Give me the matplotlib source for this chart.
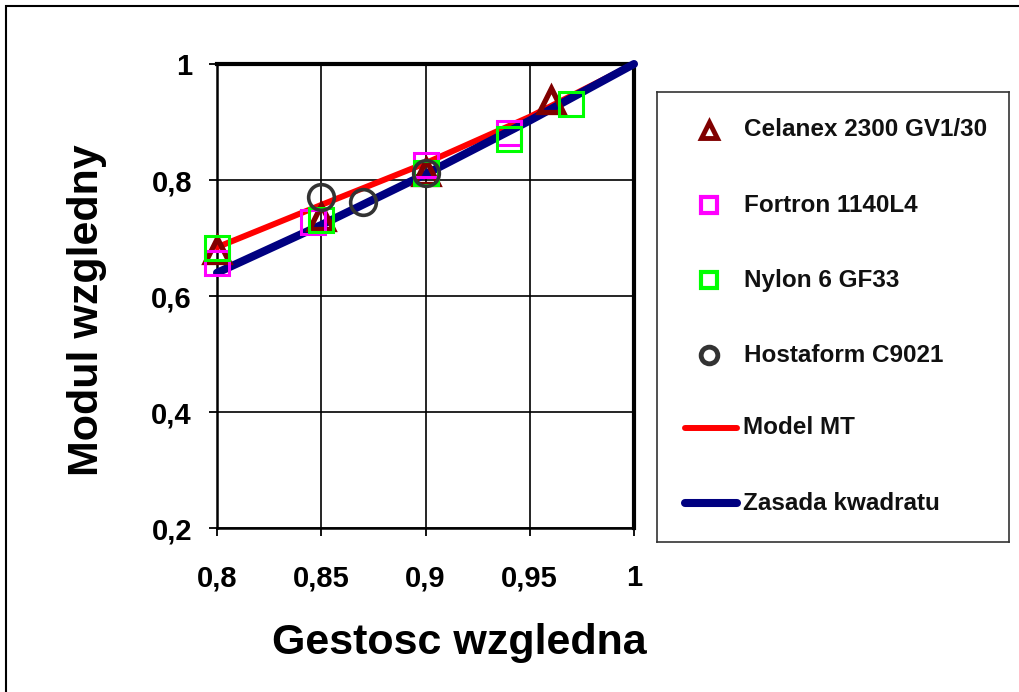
import matplotlib
matplotlib.use("Agg")
import matplotlib.pyplot as plt
from matplotlib.patches import Rectangle

plt.rcParams['font.family'] = ['Liberation Sans', 'DejaVu Sans']
plt.rcParams['font.weight'] = 'bold'

# dane
celanex_x = [0.80, 0.85, 0.90, 0.96]
celanex_y = [0.679, 0.736, 0.814, 0.938]
fortron_x = [0.80, 0.846, 0.90, 0.94]
fortron_y = [0.657, 0.728, 0.826, 0.881]
nylon_x = [0.80, 0.85, 0.90, 0.94, 0.97]
nylon_y = [0.683, 0.731, 0.812, 0.871, 0.931]
hosta_x = [0.85, 0.87, 0.90]
hosta_y = [0.771, 0.762, 0.812]
model_x = [0.80, 0.85, 0.90, 0.95, 1.00]
model_y = [0.684, 0.757, 0.829, 0.909, 1.00]
kwadrat_x = [0.80, 0.85, 0.90, 0.95, 1.00]
kwadrat_y = [0.640, 0.7225, 0.810, 0.9025, 1.00]

xticks = [0.8, 0.85, 0.9, 0.95, 1.0]
xticklabels = ['0,8', '0,85', '0,9', '0,95', '1']
yticks = [0.2, 0.4, 0.6, 0.8, 1.0]
yticklabels = ['0,2', '0,4', '0,6', '0,8', '1']

W, H = 1019, 692
fig = plt.figure(figsize=(W / 100, H / 100), dpi=100)
fig.patches.append(Rectangle((6 / W, -0.1), 1.2, 1.1 - 6 / H, transform=fig.transFigure,
                             fill=False, edgecolor='black', linewidth=1.5))

ax = fig.add_axes([217 / W, 1 - 528 / H, 417 / W, 464 / H])
ax.plot(model_x, model_y, color='#ff0000', linewidth=4.3, zorder=3,
        solid_capstyle='round', clip_on=False)
ax.plot(kwadrat_x, kwadrat_y, color='#000080', linewidth=5.8, zorder=3,
        solid_capstyle='round', clip_on=False)
ax.plot(celanex_x, celanex_y, linestyle='none', marker='^', markersize=17,
        markerfacecolor='none', markeredgecolor='#800000', markeredgewidth=3.8, zorder=4, clip_on=False)
ax.plot(fortron_x, fortron_y, linestyle='none', marker='s', markersize=17,
        markerfacecolor='none', markeredgecolor='#ff00ff', markeredgewidth=2.2, zorder=4, clip_on=False)
ax.plot(nylon_x, nylon_y, linestyle='none', marker='s', markersize=17,
        markerfacecolor='none', markeredgecolor='#00ff00', markeredgewidth=2.2, zorder=4, clip_on=False)
ax.plot(hosta_x, hosta_y, linestyle='none', marker='o', markersize=18.5,
        markerfacecolor='none', markeredgecolor='#333333', markeredgewidth=2.6, zorder=5, clip_on=False)

ax.set_xlim(0.8, 1.0)
ax.set_ylim(0.2, 1.0)
ax.set_xticks(xticks)
ax.set_xticklabels(xticklabels)
ax.set_yticks(yticks)
ax.set_yticklabels(yticklabels)
ax.grid(True, color='black', linewidth=1.2)
ax.set_axisbelow(True)
for s in ['left', 'bottom']:
    ax.spines[s].set_linewidth(1.8)
for s in ['top', 'right']:
    ax.spines[s].set_linewidth(3.0)
ax.tick_params(direction='out', length=6, width=1.3, labelsize=21)
ax.tick_params(axis='x', pad=20)
ax.tick_params(axis='y', pad=12)

ax.set_xlabel('Gestosc wzgledna', fontsize=31, fontweight='bold', va='center')
ax.xaxis.set_label_coords(0.58, -0.248)
ax.set_ylabel('Modul wzgledny', fontsize=31, fontweight='bold', va='center')
ax.yaxis.set_label_coords(-0.312, 0.47)

# legenda
lax = fig.add_axes([657 / W, 1 - 542 / H, (1009 - 657) / W, (542 - 92) / H])
lax.set_xlim(0, 352)
lax.set_ylim(450, 0)
lax.set_xticks([])
lax.set_yticks([])
for s in lax.spines.values():
    s.set_linewidth(1.2)
    s.set_edgecolor('#333333')

labels = ['Celanex 2300 GV1/30', 'Fortron 1140L4', 'Nylon 6 GF33', 'Hostaform C9021',
          'Model MT', 'Zasada kwadratu']
rows = [38, 113, 188, 263, 336, 411]
lax.plot([52], [rows[0]], marker='^', markersize=12, markerfacecolor='none',
         markeredgecolor='#800000', markeredgewidth=3.5, linestyle='none')
lax.plot([52], [rows[1]], marker='s', markersize=12, markerfacecolor='none',
         markeredgecolor='#ff00ff', markeredgewidth=3, linestyle='none')
lax.plot([52], [rows[2]], marker='s', markersize=12, markerfacecolor='none',
         markeredgecolor='#00ff00', markeredgewidth=3, linestyle='none')
lax.plot([52], [rows[3]], marker='o', markersize=12, markerfacecolor='none',
         markeredgecolor='#333333', markeredgewidth=3.5, linestyle='none')
lax.plot([28, 80], [rows[4], rows[4]], color='#ff0000', linewidth=4.3, solid_capstyle='round')
lax.plot([28, 80], [rows[5], rows[5]], color='#000080', linewidth=5.8, solid_capstyle='round')
for lab, r in zip(labels, rows):
    tx = 86 if r >= 336 else 87
    lax.text(tx, r, lab, fontsize=17.5, fontweight='bold', va='center', ha='left', color='#111111')

fig.savefig('out.png', dpi=100)
